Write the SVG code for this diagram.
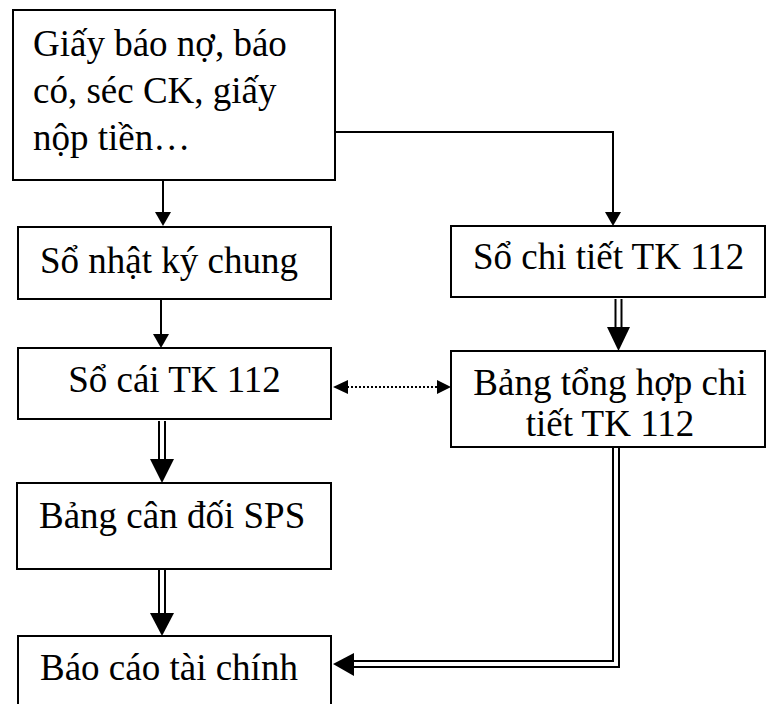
<svg xmlns="http://www.w3.org/2000/svg" width="767" height="704" viewBox="0 0 767 704">
<style>
.box{fill:#fff;stroke:#000;stroke-width:2}
.t{font-family:"Liberation Serif","Times New Roman",serif;font-size:37px;fill:#000}
.c{text-anchor:middle}
.ln{stroke:#000;stroke-width:2;fill:none}
.dl{stroke:#000;stroke-width:2;fill:none}
.dot{stroke:#000;stroke-width:2;fill:none;stroke-dasharray:2 2}
.ah{fill:#000}
</style>
<rect width="767" height="704" fill="#fff"/>
<g id="n_chungtu">
<rect class="box" x="13" y="10" width="322" height="170"/>
<text class="t" x="33" y="56">Giấy báo nợ, báo</text>
<text class="t" x="33" y="103">có, séc CK, giấy</text>
<text class="t" x="33" y="150">nộp tiền…</text>
</g>
<g id="n_nhatky">
<rect class="box" x="18" y="227" width="313" height="72"/>
<text class="t" x="40" y="273">Sổ nhật ký chung</text>
</g>
<g id="n_chitiet">
<rect class="box" x="451" y="226" width="314" height="71"/>
<text class="t" x="473" y="269">Sổ chi tiết TK 112</text>
</g>
<g id="n_socai">
<rect class="box" x="18" y="348" width="313" height="71"/>
<text class="t c" x="174.5" y="392">Sổ cái TK 112</text>
</g>
<g id="n_tonghop">
<rect class="box" x="451" y="351" width="314" height="96"/>
<text class="t c" x="610" y="395">Bảng tổng hợp chi</text>
<text class="t c" x="610" y="436">tiết TK 112</text>
</g>
<g id="n_candoi">
<rect class="box" x="17" y="483" width="314" height="86"/>
<text class="t" x="39" y="528">Bảng cân đối SPS</text>
</g>
<g id="n_baocao">
<rect class="box" x="18" y="636" width="313" height="80"/>
<text class="t" x="40" y="680">Báo cáo tài chính</text>
</g>
<g id="connectors">
<line class="ln" x1="163" y1="180" x2="163" y2="213"/>
<polygon class="ah" points="155,212 171,212 163,226"/>
<polyline class="ln" points="335,132 613,132 613,213"/>
<polygon class="ah" points="605,212 621,212 613,226"/>
<line class="ln" x1="161" y1="300" x2="161" y2="335"/>
<polygon class="ah" points="153,334 169,334 161,348"/>
<line class="dot" x1="347" y1="387" x2="441" y2="387"/>
<polygon class="ah" points="333,387 348,380 348,394"/>
<polygon class="ah" points="451,387 437,380 437,394"/>
<line class="dl" x1="615.5" y1="299" x2="615.5" y2="328"/>
<line class="dl" x1="621.5" y1="299" x2="621.5" y2="328"/>
<polygon class="ah" points="607,327 630,327 618.5,351"/>
<line class="dl" x1="159" y1="421" x2="159" y2="460"/>
<line class="dl" x1="165" y1="421" x2="165" y2="460"/>
<polygon class="ah" points="150,459 174,459 162,483"/>
<line class="dl" x1="159" y1="570" x2="159" y2="614"/>
<line class="dl" x1="165" y1="570" x2="165" y2="614"/>
<polygon class="ah" points="150,613 174,613 162,636"/>
<polyline class="dl" points="613,448 613,661 352,661"/>
<polyline class="dl" points="619,448 619,667 352,667"/>
<polygon class="ah" points="333,664 354,653 354,676"/>
</g>
</svg>
